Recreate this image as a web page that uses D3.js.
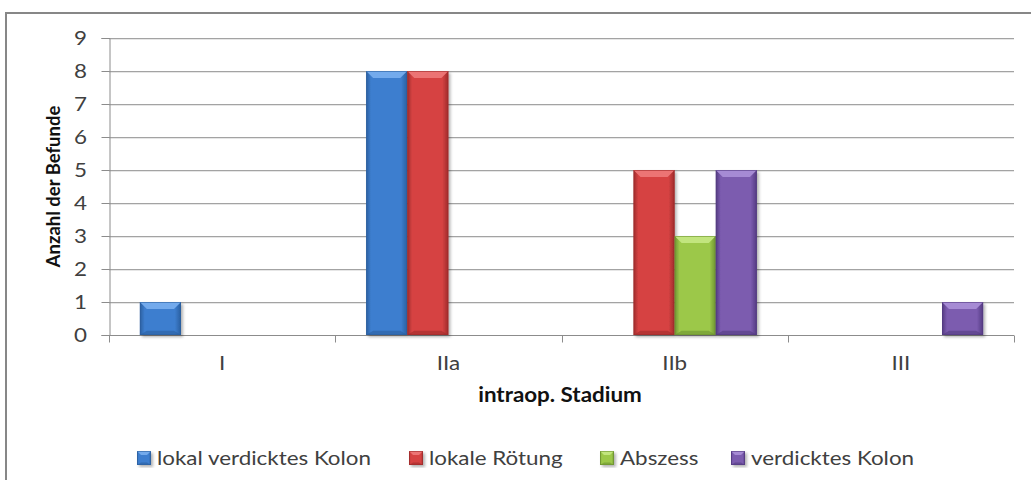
<!DOCTYPE html>
<html>
<head>
<meta charset="utf-8">
<script src="https://cdn.jsdelivr.net/npm/d3@7"></script>
<style>
  html, body { margin: 0; padding: 0; background: #fff; }
  svg { display: block; font-family: Lato, "Open Sans", sans-serif; }
</style>
</head>
<body>
<svg id="chart" width="1031" height="480"></svg>
<script>
// Données
const categories = ["I", "IIa", "IIb", "III"];
const seriesNames = ["lokal verdicktes Kolon", "lokale Rötung", "Abszess", "verdicktes Kolon"];
const lokalVerdicktesKolon = [1, 8, 0, 0];
const lokaleRoetung = [0, 8, 5, 0];
const abszess = [0, 0, 3, 0];
const verdicktesKolon = [0, 0, 5, 1];
const yTickValues = [0, 1, 2, 3, 4, 5, 6, 7, 8, 9];

const seriesValues = [lokalVerdicktesKolon, lokaleRoetung, abszess, verdicktesKolon];

// Couleurs : base, biseau haut, bord sombre
const colors = [
  {base: "#3d7ecf", light: "#73aaec", dark: "#2b5f9f"},
  {base: "#d64343", light: "#ec7474", dark: "#9e2b2b"},
  {base: "#9cc84a", light: "#c2e57e", dark: "#6d9231"},
  {base: "#7b5baf", light: "#a68bd4", dark: "#533a80"}
];

const margin = {top: 38, right: 17, bottom: 145, left: 109};
const width = 1031;
const height = 480;
// le texte horizontal de l'original est un peu étiré
const stretch = 1.12;

const svg = d3.select("#chart");
const defs = svg.append("defs");

// Ombre légère sous les barres
const shadow = defs.append("filter").attr("id", "shadow")
  .attr("x", "-20%").attr("y", "-10%").attr("width", "150%").attr("height", "130%");
shadow.append("feDropShadow")
  .attr("dx", 2).attr("dy", 2).attr("stdDeviation", 1.5)
  .attr("flood-color", "#000").attr("flood-opacity", 0.3);

colors.forEach((c, i) => {
  const g = defs.append("linearGradient").attr("id", "grad" + i)
    .attr("x1", "0%").attr("x2", "100%").attr("y1", "0%").attr("y2", "0%");
  g.append("stop").attr("offset", "0%").attr("stop-color", c.dark);
  g.append("stop").attr("offset", "12%").attr("stop-color", c.base);
  g.append("stop").attr("offset", "85%").attr("stop-color", c.base);
  g.append("stop").attr("offset", "100%").attr("stop-color", c.dark);
});

function hText(g, tx, ty, txt, anchor) {
  return g.append("text")
    .attr("transform", `translate(${tx},${ty}) scale(${stretch},1)`)
    .attr("text-anchor", anchor)
    .text(txt);
}

// Cadre extérieur
svg.append("rect")
  .attr("x", 6).attr("y", 13)
  .attr("width", 1060).attr("height", 500)
  .attr("fill", "none")
  .attr("stroke", "#878787")
  .attr("stroke-width", 2);

// Échelles
const x = d3.scaleBand()
  .domain(categories)
  .range([margin.left, width - margin.right]);

const x1 = d3.scaleBand()
  .domain(seriesNames)
  .range([0, x.bandwidth()])
  .paddingOuter(0.75);

const y = d3.scaleLinear()
  .domain([0, 9])
  .range([height - margin.bottom, margin.top]);

// Lignes de grille
svg.append("g")
  .selectAll("line")
  .data(yTickValues.filter(d => d > 0))
  .enter()
  .append("line")
  .attr("x1", margin.left)
  .attr("x2", width - margin.right)
  .attr("y1", d => Math.round(y(d)) + 0.5)
  .attr("y2", d => Math.round(y(d)) + 0.5)
  .attr("stroke", "#a3a3a3");

svg.append("g")
  .selectAll("line")
  .data(yTickValues.filter(d => d > 0))
  .enter()
  .append("line")
  .attr("x1", margin.left)
  .attr("x2", width - margin.right)
  .attr("y1", d => Math.round(y(d)) + 1.5)
  .attr("y2", d => Math.round(y(d)) + 1.5)
  .attr("stroke", "#e6e6e6");

// Axe Y
const yAxis = svg.append("g")
  .attr("transform", `translate(${margin.left + 0.5},0)`)
  .call(d3.axisLeft(y).tickValues(yTickValues).tickSize(8).tickFormat(""));

yAxis.select(".domain").attr("stroke", "#8c8c8c");
yAxis.selectAll(".tick line").attr("stroke", "#8c8c8c");

const yLabels = svg.append("g")
  .attr("font-size", "20px")
  .attr("fill", "#404040");
yTickValues.forEach(v => {
  hText(yLabels, 87, y(v) + 7, String(v), "end");
});

// Axe X
const xAxisY = Math.round(y(0)) + 0.5;
svg.append("line")
  .attr("x1", margin.left).attr("x2", width - margin.right)
  .attr("y1", xAxisY).attr("y2", xAxisY)
  .attr("stroke", "#8c8c8c");

const boundaries = categories.map(c => x(c)).concat([x(categories[categories.length - 1]) + x.bandwidth()]);
svg.append("g")
  .selectAll("line")
  .data(boundaries)
  .enter()
  .append("line")
  .attr("x1", d => Math.round(d) + 0.5)
  .attr("x2", d => Math.round(d) + 0.5)
  .attr("y1", xAxisY)
  .attr("y2", xAxisY + 7)
  .attr("stroke", "#8c8c8c");

const xLabels = svg.append("g")
  .attr("font-size", "20px")
  .attr("fill", "#404040");
categories.forEach(c => {
  hText(xLabels, x(c) + x.bandwidth() / 2, 370, c, "middle");
});

// Barres biseautées
function drawBar(g, bx, by, bw, bh, c, i, bev) {
  g.append("rect")
    .attr("x", bx).attr("y", by).attr("width", bw).attr("height", bh)
    .attr("fill", "url(#grad" + i + ")")
    .attr("filter", "url(#shadow)");
  // biseau haut
  g.append("path")
    .attr("d", `M${bx},${by}L${bx + bw},${by}L${bx + bw - bev},${by + bev}L${bx + bev},${by + bev}Z`)
    .attr("fill", c.light);
  // biseau bas
  g.append("path")
    .attr("d", `M${bx},${by + bh}L${bx + bw},${by + bh}L${bx + bw - bev},${by + bh - bev * 0.6}L${bx + bev},${by + bh - bev * 0.6}Z`)
    .attr("fill", c.dark).attr("opacity", 0.6);
  g.append("rect")
    .attr("x", bx + 0.5).attr("y", by + 0.5).attr("width", bw - 1).attr("height", bh - 1)
    .attr("fill", "none").attr("stroke", c.dark).attr("stroke-opacity", 0.6);
}

const barData = [];
seriesValues.forEach((vals, s) => {
  vals.forEach((v, k) => {
    if (v > 0) barData.push({serie: s, cat: categories[k], value: v});
  });
});

const bars = svg.append("g");
barData.forEach(d => {
  const bx = x(d.cat) + x1(seriesNames[d.serie]);
  const by = y(d.value);
  drawBar(bars, bx, by, x1.bandwidth(), y(0) - by, colors[d.serie], d.serie, 7);
});

// Titres des axes
svg.append("text")
  .attr("transform", `translate(60,${(y(0) + y(9)) / 2}) rotate(-90)`)
  .attr("text-anchor", "middle")
  .attr("font-size", "18.5px")
  .attr("font-weight", "bold")
  .attr("fill", "#111")
  .text("Anzahl der Befunde");

const xTitle = svg.append("g")
  .attr("font-size", "20px")
  .attr("font-weight", "bold")
  .attr("fill", "#111");
hText(xTitle, 560, 402, "intraop. Stadium", "middle");

// Légende
const legendX = [137, 409, 600, 731];
const legend = svg.append("g")
  .attr("font-size", "20px")
  .attr("fill", "#404040");
seriesNames.forEach((name, i) => {
  const lg = legend.append("g");
  drawBar(lg, legendX[i], 451, 14, 14, colors[i], i, 4);
  hText(lg, legendX[i] + 20, 465, name, "start");
});
</script>
</body>
</html>
